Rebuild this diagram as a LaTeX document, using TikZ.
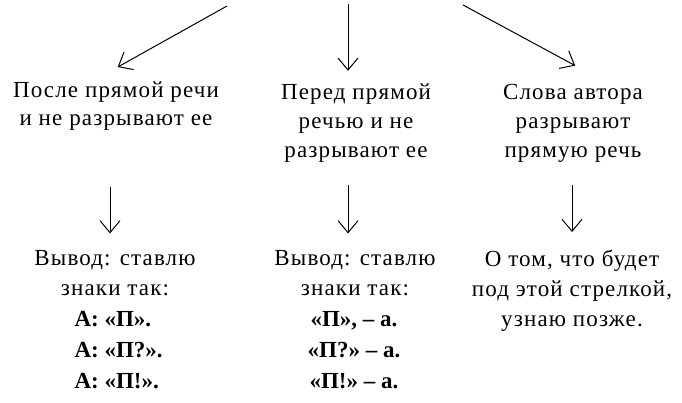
\documentclass[tikz,border=0pt]{standalone}
\usepackage{fontspec}
\setmainfont{Liberation Serif}
\newfontfamily\widefont{Liberation Serif}[LetterSpace=5]
\usetikzlibrary{arrows.meta,positioning,calc}

\begin{document}
\begin{tikzpicture}[x=1pt, y=-1pt, >={Straight Barb[length=12pt,width=20pt]}, line width=1pt,
  txt/.style={font=\widefont\fontsize{23}{28}\selectfont, inner sep=1pt},
  sign/.style={txt, font=\rmfamily\fontsize{23}{28}\selectfont\bfseries}]

\useasboundingbox (0,0) rectangle (682,402);

% where the top arrows start
\coordinate (src-1) at (227,6);
\coordinate (src-2) at (348,4);
\coordinate (src-3) at (463,5);

\foreach \t [count=\i] in {После прямой речи, и не разрывают ее}
  \node [txt, anchor=base] (head1-\i) at (116,69+\i*28) {\t};

\foreach \t [count=\i] in {Перед прямой, речью и не, разрывают ее}
  \node [txt, anchor=base] (head2-\i) at (356,70+\i*29) {\t};

\foreach \t [count=\i] in {Слова автора, разрывают, прямую речь}
  \node [txt, anchor=base] (head3-\i) at (573,70+\i*29) {\t};

% conclusions
\foreach \t [count=\i] in {Вывод:  ставлю, знаки так:}
  \node [txt, anchor=base] (res1-\i) at (115,235+\i*30) {\t};

\foreach \t [count=\i] in {Вывод:  ставлю, знаки так:}
  \node [txt, anchor=base] (res2-\i) at (355,235+\i*30) {\t};

\foreach \t [count=\i] in {{О том, что будет}, {под этой стрелкой,}, узнаю позже.}
  \node [txt, anchor=base] (res3-\i) at (572,236+\i*30) {\t};

\foreach \t [count=\i] in {А: «П»., А: «П?»., А: «П!».}
  \node [sign, anchor=base west] (sign1-\i) at (73,295+\i*31) {\t};

\foreach \t [count=\i] in {{«П», – а.}, «П?» – а., «П!» – а.}
  \node [sign, anchor=base] (sign2-\i) at (354,295+\i*31) {\t};

% top arrows
\draw [->, shorten >=26pt] (src-1) -- ([xshift=-21pt]head1-1.north);
\draw [->, shorten >=11pt] (src-2) -- (src-2 |- head2-1.north);
\draw [->, shorten >=35pt] (src-3) -- ([xshift=33pt]head3-1.north);

% arrows to the conclusions
\coordinate (mid-1) at (110,187);
\coordinate (mid-2) at (348,185);
\coordinate (mid-3) at (572,185);

\draw [->, shorten >=15pt] (mid-1) -- (mid-1 |- res1-1.north);
\draw [->, shorten >=15pt] (mid-2) -- (mid-2 |- res2-1.north);
\draw [->, shorten >=16pt] (mid-3) -- (mid-3 |- res3-1.north);

\end{tikzpicture}
\end{document}
